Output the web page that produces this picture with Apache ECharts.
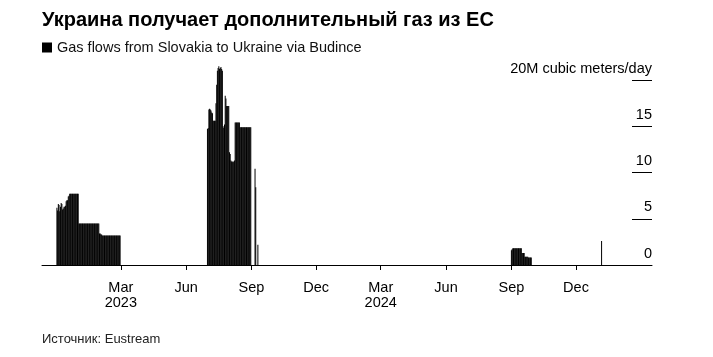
<!DOCTYPE html>
<html>
<head>
<meta charset="utf-8">
<script src="https://cdn.jsdelivr.net/npm/echarts@6/dist/echarts.min.js"></script>
<style>
html,body{margin:0;padding:0;background:#fff;}
#chart{width:713px;height:357px;}
</style>
</head>
<body>
<div id="chart"></div>
<script>
// ---- Data (daily gas flows, million cubic meters/day) ----
const titleText = 'Украина получает дополнительный газ из ЕС';
const seriesName = 'Gas flows from Slovakia to Ukraine via Budince';
const sourceText = 'Источник: Eustream';
const yUnitLabel = '20M cubic meters/day';

// Segment 1: 2022-12-01 .. 2023-02-28
const seg1Start = [2022, 11, 1];
const seg1Values = [
  6.2, 5.9, 6.6, 6.5, 5.8, 6.3, 6.7, 6.6, 6.0, 6.1,
  6.3, 6.3, 6.4, 6.9, 7.0, 7.0, 7.4, 7.5, 7.7, 7.7,
  7.7, 7.7, 7.7, 7.7, 7.7, 7.7, 7.7, 7.7, 7.7, 7.7, 7.7,
  4.5, 4.5, 4.5, 4.5, 4.5, 4.5, 4.5, 4.5, 4.5, 4.5,
  4.5, 4.5, 4.5, 4.5, 4.5, 4.5, 4.5, 4.5, 4.5, 4.5,
  4.5, 4.5, 4.5, 4.5, 4.5, 4.5, 4.5, 4.5, 4.5, 3.4, 3.4,
  3.3, 3.3, 3.2, 3.2, 3.2, 3.2, 3.2, 3.2, 3.2, 3.2,
  3.2, 3.2, 3.2, 3.2, 3.2, 3.2, 3.2, 3.2, 3.2, 3.2,
  3.2, 3.2, 3.2, 3.2, 3.2, 3.2, 3.2, 3.2
];

// Segment 2: 2023-07-01 .. 2023-08-31
const seg2Start = [2023, 6, 1];
const seg2Values = [
  14.7, 14.8, 16.8, 16.9, 16.8, 16.7, 16.5, 16.4, 15.6, 15.6,
  15.6, 15.6, 17.5, 19.5, 21.0, 21.3, 21.5, 21.2, 21.3, 21.4,
  21.2, 21.0, 15.0, 14.8, 15.2, 18.3, 18.0, 17.2, 17.2, 17.2, 17.2,
  12.2, 12.0, 11.3, 11.2, 11.2, 11.1, 11.2, 11.3, 15.4, 15.4,
  15.4, 15.4, 15.4, 15.4, 15.4, 14.9, 14.9, 14.9, 14.9, 14.9,
  14.9, 14.9, 14.9, 14.9, 14.9, 14.9, 14.9, 14.9, 14.9, 14.9, 14.9
];

// Isolated days
const spikeDates = [[2023, 8, 6], [2023, 8, 7], [2023, 8, 10], [2025, 0, 6]];
const spikeValues = [10.4, 8.4, 2.2, 2.6];

// Segment 3: 2024-09-01 .. 2024-09-29
const seg3Start = [2024, 8, 1];
const seg3Values = [
  1.6, 1.7, 1.8, 1.8, 1.8, 1.8, 1.8, 1.8, 1.8, 1.8,
  1.8, 1.8, 1.8, 1.8, 1.8, 1.3, 1.3, 1.3, 1.3, 0.9,
  0.9, 0.9, 0.9, 0.9, 0.8, 0.8, 0.8, 0.8, 0.8
];

// Axis ticks
const xTickDates = [[2023,2,1],[2023,5,1],[2023,8,1],[2023,11,1],[2024,2,1],[2024,5,1],[2024,8,1],[2024,11,1]];
const monthNames = ['Jan','Feb','Mar','Apr','May','Jun','Jul','Aug','Sep','Oct','Nov','Dec'];
const xRange = [[2022,10,10],[2025,2,18]];
const yTicks = [0, 5, 10, 15, 20];

// ---- Build ----
function ts(a){ return new Date(a[0], a[1], a[2]).getTime(); }
function segment(start, values){
  return values.map((v, i) => [new Date(start[0], start[1], start[2] + i).getTime(), v]);
}
const data = []
  .concat(segment(seg1Start, seg1Values))
  .concat(segment(seg2Start, seg2Values))
  .concat(spikeDates.map((d, i) => [ts(d), spikeValues[i]]))
  .concat(segment(seg3Start, seg3Values))
  .sort((a, b) => a[0] - b[0]);

const FONT = '"Liberation Sans", Arial, sans-serif';
const chart = echarts.init(document.getElementById('chart'));
chart.setOption({
  animation: false,
  textStyle: { fontFamily: FONT },
  title: [
    { text: titleText, left: 37, top: 5,
      textStyle: { fontFamily: FONT, fontSize: 20, fontWeight: 'bold', color: '#000' } },
    { text: sourceText, left: 37, top: 328,
      textStyle: { fontFamily: FONT, fontSize: 13, fontWeight: 'normal', color: '#222' } }
  ],
  legend: {
    left: 37, top: 35, itemWidth: 10, itemHeight: 10, itemGap: 6,
    icon: 'rect',
    textStyle: { fontFamily: FONT, fontSize: 14.5, color: '#111' },
    data: [seriesName]
  },
  grid: { left: 42, right: 61, top: 80, bottom: 92, containLabel: false },
  xAxis: {
    type: 'value',
    min: ts(xRange[0]), max: ts(xRange[1]),
    axisLine: { show: true, onZero: false, lineStyle: { color: '#000', width: 1 } },
    axisTick: { show: true, length: 5, customValues: xTickDates.map(ts), lineStyle: { color: '#000' } },
    axisLabel: {
      customValues: xTickDates.map(ts),
      margin: 15, fontSize: 14.5, color: '#000', lineHeight: 15, fontFamily: FONT,
      formatter: function (v) {
        const d = new Date(v);
        const m = monthNames[d.getMonth()];
        return d.getMonth() === 2 ? m + '\n' + d.getFullYear() : m;
      }
    },
    splitLine: { show: false }
  },
  yAxis: {
    type: 'value', position: 'right', min: 0, max: 20, interval: 5,
    axisLine: { show: false },
    axisTick: { show: true, inside: true, length: 20, lineStyle: { color: '#000', width: 1 } },
    splitLine: { show: false },
    axisLabel: {
      inside: true, margin: 0, fontSize: 14.5, color: '#000', fontFamily: FONT,
      verticalAlign: 'bottom', padding: [0, 0, 4, 0],
      formatter: function (v) { return v === 20 ? yUnitLabel : String(v); }
    }
  },
  series: [{
    name: seriesName,
    type: 'bar',
    data: data,
    barWidth: 1,
    clip: false,
    itemStyle: { color: '#000' }
  }]
});
</script>
</body>
</html>
